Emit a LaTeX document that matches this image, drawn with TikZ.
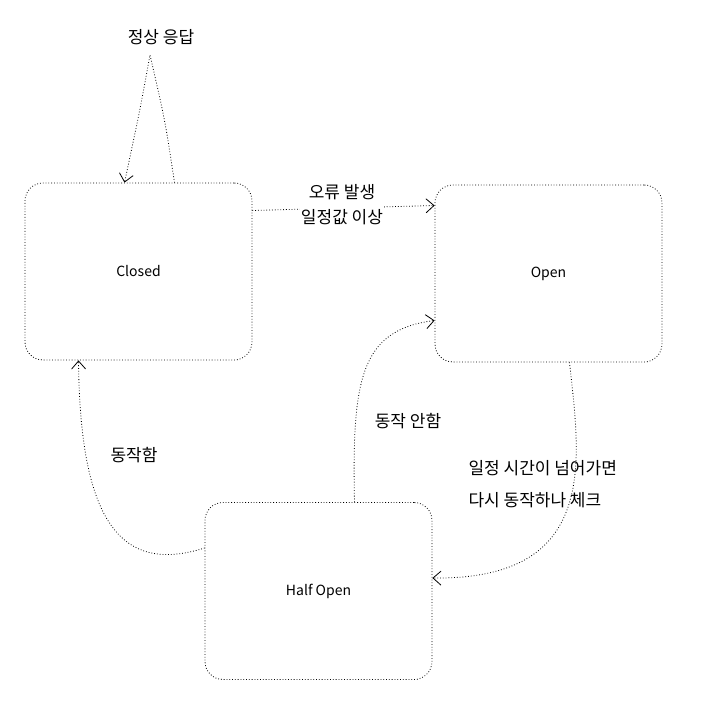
\documentclass[tikz,border=0pt]{standalone}
\usepackage{fontspec}
\setmainfont{Noto Sans CJK KR}
\usetikzlibrary{arrows.meta}
\begin{document}
\begin{tikzpicture}[x=1pt,y=-1pt,
  box/.style={draw,dotted,thick,rounded corners=18pt,minimum width=227pt,minimum height=177pt,font=\fontsize{14}{16}\selectfont},
  conn/.style={dotted,thick,-{Straight Barb[length=8pt,width=14pt]}},
  lbl/.style={font=\fontsize{17}{25}\selectfont,align=center}]
\useasboundingbox (0,0) rectangle (713,709);
\node[box] (closed) at (138.5,271.5) {Closed};
\node[box] (open) at (548.5,273.5) {Open};
\node[box] (half) at (318.5,591) {Half Open};
\coordinate (top) at (150,55);
\draw[conn] (closed.north) ++(36,0) .. controls (165,120) .. (top) .. controls (140,110) .. ([xshift=-14pt]closed.north);
\node[lbl] (t1) at (161,37) {정상 응답};
\draw[conn] ([yshift=61pt]closed.east) -- ([yshift=68pt]open.west);
\node[lbl,fill=white,inner sep=1pt] (t2) at (342,205) {오류 발생\\일정값 이상};
\draw[conn] ([xshift=21pt]open.south) .. controls (580,460) and (600,580) .. ([yshift=13pt]half.east);
\node[lbl,align=left,anchor=west,font=\fontsize{17}{32}\selectfont] (t3) at (465,484) {일정 시간이 넘어가면\\다시 동작하나 체크};
\draw[conn] ([xshift=36pt]half.north) .. controls (352,380) and (360,330) .. ([yshift=-47pt]open.west);
\node[lbl] (t4) at (408,421) {동작 안함};
\draw[conn] ([yshift=43pt]half.west) .. controls (120,575) and (80,520) .. ([xshift=-60pt]closed.south);
\node[lbl] (t5) at (134,455) {동작함};
\end{tikzpicture}
\end{document}
